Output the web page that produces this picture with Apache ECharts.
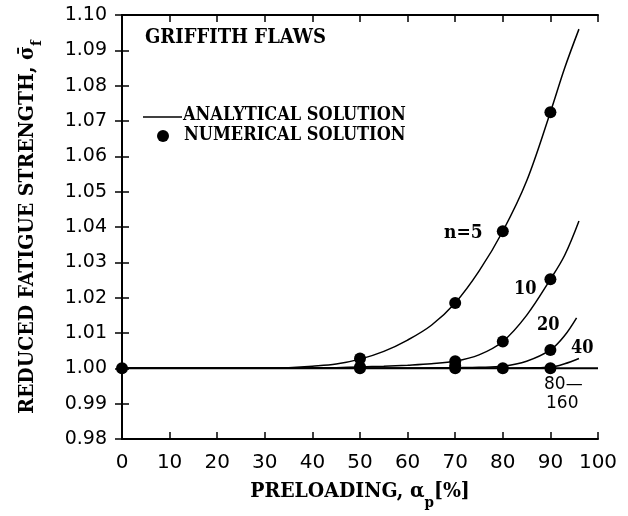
<!DOCTYPE html>
<html><head><meta charset="utf-8">
<script src="https://cdn.jsdelivr.net/npm/echarts@6/dist/echarts.min.js"></script>
<style>html,body{margin:0;padding:0;background:#fff}#c{width:628px;height:516px}</style>
</head><body><div id="c"></div>
<script>
// Analytical curves
const n5X  = [0, 10, 20, 30, 35, 40, 45, 50, 55, 60, 65, 70, 75, 80, 85, 90, 93, 96];
const n5Y  = [1.0000, 1.0000, 1.0000, 1.0000, 1.0002, 1.0006, 1.0012, 1.0026, 1.0048, 1.0080, 1.0122, 1.0185, 1.0275, 1.0388, 1.0530, 1.0725, 1.0850, 1.0960];
const n10X = [0, 10, 20, 30, 40, 45, 50, 55, 60, 65, 70, 75, 80, 85, 90, 93, 96];
const n10Y = [1.0000, 1.0000, 1.0000, 1.0000, 1.0001, 1.0002, 1.0004, 1.0006, 1.0009, 1.0013, 1.0020, 1.0038, 1.0076, 1.0150, 1.0252, 1.0320, 1.0417];
const n20X = [0, 10, 20, 30, 40, 50, 60, 65, 70, 75, 80, 85, 90, 93, 95.5];
const n20Y = [1.0000, 1.0000, 1.0000, 1.0000, 1.0000, 1.0000, 1.0000, 1.0001, 1.0002, 1.0003, 1.0006, 1.0020, 1.0052, 1.0093, 1.0143];
const n40X = [0, 10, 20, 30, 40, 50, 60, 70, 80, 85, 88, 90, 93, 96];
const n40Y = [1.0000, 1.0000, 1.0000, 1.0000, 1.0000, 1.0000, 1.0000, 1.0000, 1.0000, 1.0001, 1.0002, 1.0003, 1.0013, 1.0028];
const n80X = [0, 100];
const n80Y = [1.0000, 1.0000];
// Numerical solution points
const numX = [0, 50, 50, 50, 70, 70, 70, 70, 80, 80, 80, 90, 90, 90, 90];
const numY = [1.0000, 1.0000, 1.0004, 1.0028, 1.0000, 1.0007, 1.0020, 1.0185, 1.0000, 1.0076, 1.0388, 1.0000, 1.0052, 1.0252, 1.0725];
// Text
const curveLabels = ['n=5', '10', '20', '40', '80\u2014', '160'];
const legendNames = ['ANALYTICAL SOLUTION', 'NUMERICAL SOLUTION'];
const panelTitle = 'GRIFFITH FLAWS';

const zip = (xs, ys) => xs.map((x, i) => [x, ys[i]]);
const serif = '"DejaVu Serif Condensed", "DejaVu Serif"';
const sans = 'DejaVu Sans';

const chart = echarts.init(document.getElementById('c'));
const axisLineStyle = { color: '#000', width: 2 };
const tick = { inside: true, length: 7, lineStyle: { color: '#000', width: 1.5 } };
const curve = (name, xs, ys, w) => ({
  name, type: 'line', data: zip(xs, ys), smooth: 0.35,
  symbol: 'none', lineStyle: { color: '#000', width: w || 1.5 }, z: 3, silent: true
});
const txt = (text, x, y, font) => ({
  type: 'text', x, y, silent: true,
  style: { text, font, fill: '#000', verticalAlign: 'middle', align: 'left' }
});
const sf = (w, s) => w + ' ' + s + 'px "DejaVu Serif Condensed", "DejaVu Serif", serif';
chart.setOption({
  animation: false,
  backgroundColor: '#fff',
  grid: { left: 122, top: 15, right: 30, bottom: 75 },
  xAxis: [{
    type: 'value', min: 0, max: 100, interval: 10,
    axisLine: { lineStyle: axisLineStyle }, splitLine: { show: false }, axisTick: tick,
    axisLabel: { color: '#000', fontFamily: sans, fontSize: 20, margin: 14 },
    name: '{a|PRELOADING, \u03b1}{s|p}{a|[%]}', nameLocation: 'middle', nameGap: 42,
    nameTextStyle: { rich: {
      a: { fontFamily: serif, fontSize: 21, fontWeight: 'bold', color: '#000' },
      s: { fontFamily: serif, fontSize: 15, fontWeight: 'bold', color: '#000', verticalAlign: 'bottom', padding: [0, 0, -9, 0] }
    } }
  }, {
    type: 'value', position: 'top', min: 0, max: 100, interval: 10,
    axisLine: { lineStyle: axisLineStyle }, splitLine: { show: false }, axisTick: tick,
    axisLabel: { show: false }
  }],
  yAxis: [{
    type: 'value', min: 0.98, max: 1.10, interval: 0.01,
    axisLine: { lineStyle: axisLineStyle }, splitLine: { show: false }, axisTick: tick,
    axisLabel: { color: '#000', fontFamily: sans, fontSize: 19, margin: 15, formatter: v => v.toFixed(2) },
    name: '{a|REDUCED FATIGUE STRENGTH, \u03c3\u0304}{s|f}', nameLocation: 'middle', nameGap: 84, nameRotate: 90,
    nameTextStyle: { rich: {
      a: { fontFamily: serif, fontSize: 21, fontWeight: 'bold', color: '#000' },
      s: { fontFamily: serif, fontSize: 15, fontWeight: 'bold', color: '#000', verticalAlign: 'bottom', padding: [0, 0, -7, 0] }
    } }
  }, {
    type: 'value', position: 'right', min: 0.98, max: 1.10, interval: 0.01,
    axisLine: { lineStyle: axisLineStyle }, splitLine: { show: false }, axisTick: tick,
    axisLabel: { show: false }
  }],
  series: [
    curve('n=5', n5X, n5Y),
    curve('n=10', n10X, n10Y),
    curve('n=20', n20X, n20Y),
    curve('n=40', n40X, n40Y),
    curve('n=80-160', n80X, n80Y, 2),
    { name: legendNames[1], type: 'scatter', data: zip(numX, numY), symbol: 'circle', symbolSize: 12,
      itemStyle: { color: '#000', opacity: 1 }, z: 4, silent: true }
  ],
  graphic: [
    txt(panelTitle, 145, 38, sf('bold', 20)),
    { type: 'line', silent: true, shape: { x1: 143, y1: 117, x2: 182, y2: 117 }, style: { stroke: '#000', lineWidth: 1.5 } },
    txt(legendNames[0], 183, 115, sf('bold', 18)),
    { type: 'circle', silent: true, shape: { cx: 163, cy: 136, r: 6 }, style: { fill: '#000' } },
    txt(legendNames[1], 184, 135, sf('bold', 18)),
    txt(curveLabels[0], 444, 233, sf('bold', 19)),
    txt(curveLabels[1], 514, 289, sf('bold', 18)),
    txt(curveLabels[2], 537, 325, sf('bold', 18)),
    txt(curveLabels[3], 571, 348, sf('bold', 18)),
    txt(curveLabels[4], 544, 385, '17px "DejaVu Sans"'),
    txt(curveLabels[5], 546, 404, '17px "DejaVu Sans"')
  ]
});
</script></body></html>
